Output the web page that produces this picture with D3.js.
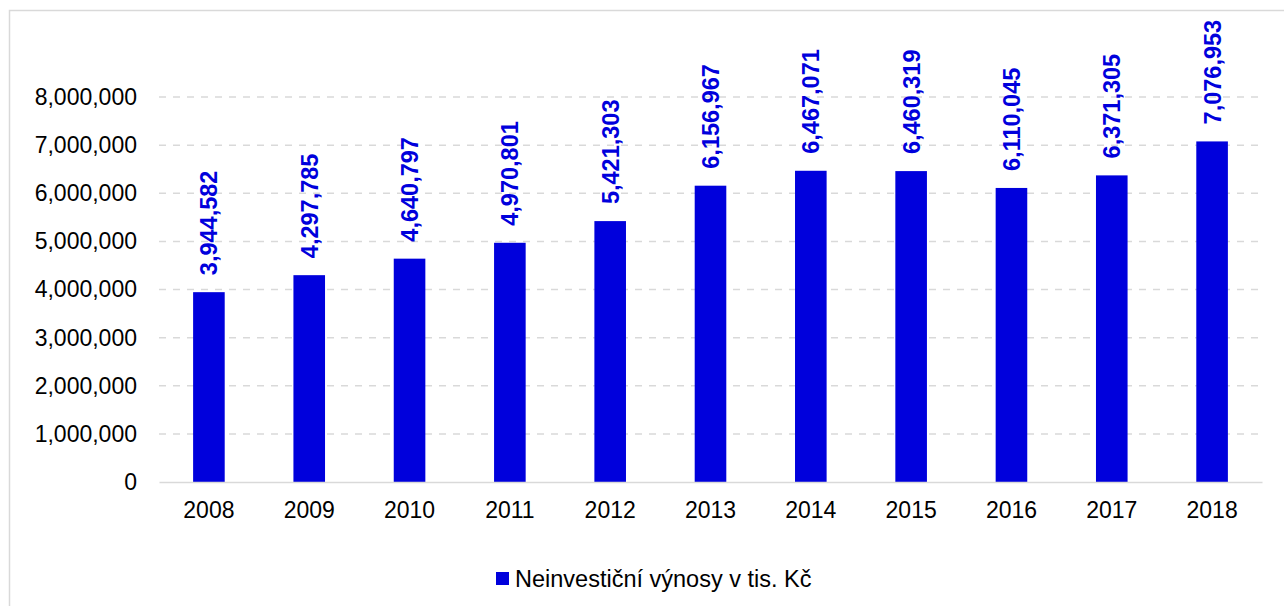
<!DOCTYPE html>
<html lang="cs">
<head>
<meta charset="utf-8">
<title>Neinvestiční výnosy</title>
<script src="https://d3js.org/d3.v7.min.js"></script>
<style>
  body { margin: 0; background: #fff; }
  svg { display: block; font-family: "Liberation Sans", Arial, sans-serif; }
</style>
</head>
<body>
<svg width="1284" height="606"></svg>
<script>
// data
const years = ["2008", "2009", "2010", "2011", "2012", "2013", "2014", "2015", "2016", "2017", "2018"];
const values = [3944582, 4297785, 4640797, 4970801, 5421303, 6156967, 6467071, 6460319, 6110045, 6371305, 7076953];
const yTicks = [0, 1000000, 2000000, 3000000, 4000000, 5000000, 6000000, 7000000, 8000000];
const seriesName = "Neinvestiční výnosy v tis. Kč";

const svg = d3.select("svg");
const barColor = "#0000dc";
const gridColor = "#d9d9d9";
const fmt = d3.format(",");

// outer frame
svg.append("rect")
  .attr("x", 9.5).attr("y", 10.5)
  .attr("width", 1290).attr("height", 610)
  .attr("fill", "none").attr("stroke", gridColor).attr("stroke-width", 1.5);

const x = d3.scaleBand().domain(years).range([159, 1262]).paddingInner(0.685).paddingOuter(0.34);
const y = d3.scaleLinear().domain([0, 8000000]).range([482, 97]);

// gridlines
svg.append("g").selectAll("line")
  .data(yTicks.filter(d => d > 0))
  .join("line")
  .attr("x1", 159).attr("x2", 1262)
  .attr("y1", d => y(d)).attr("y2", d => y(d))
  .attr("stroke", gridColor).attr("stroke-width", 1.5)
  .attr("stroke-dasharray", "7,7");

// y axis labels
const yAxis = d3.axisLeft(y).tickValues(yTicks).tickFormat(fmt).tickSize(0).tickPadding(0);
svg.append("g")
  .attr("transform", "translate(137,0)")
  .call(yAxis)
  .call(g => g.select(".domain").remove())
  .call(g => g.selectAll("text").attr("font-size", 23).attr("fill", "#000")
    .attr("font-family", "Liberation Sans, Arial, sans-serif"));

// bars
svg.append("g").selectAll("rect")
  .data(values)
  .join("rect")
  .attr("x", (d, i) => x(years[i]))
  .attr("width", x.bandwidth())
  .attr("y", d => y(d))
  .attr("height", d => y(0) - y(d))
  .attr("fill", barColor);

// x axis
const xAxis = d3.axisBottom(x).tickSize(0).tickPadding(20);
svg.append("g")
  .attr("transform", "translate(0,482)")
  .call(xAxis)
  .call(g => g.select(".domain").attr("stroke", gridColor).attr("stroke-width", 1.5))
  .call(g => g.selectAll("text").attr("font-size", 23).attr("fill", "#000")
    .attr("font-family", "Liberation Sans, Arial, sans-serif"));

// value labels
svg.append("g").selectAll("text")
  .data(values)
  .join("text")
  .attr("transform", (d, i) => `translate(${x(years[i]) + x.bandwidth() / 2 + 8.5},${y(d) - 17}) rotate(-90)`)
  .attr("font-size", 23.5)
  .attr("font-weight", "bold")
  .attr("fill", barColor)
  .text(d => fmt(d));

// legend
const legend = svg.append("g").attr("transform", "translate(496,572)");
legend.append("rect").attr("width", 13).attr("height", 13).attr("fill", barColor);
legend.append("text")
  .attr("x", 19).attr("y", 15)
  .attr("font-size", 23.5)
  .attr("fill", "#000")
  .text(seriesName);
</script>
</body>
</html>
